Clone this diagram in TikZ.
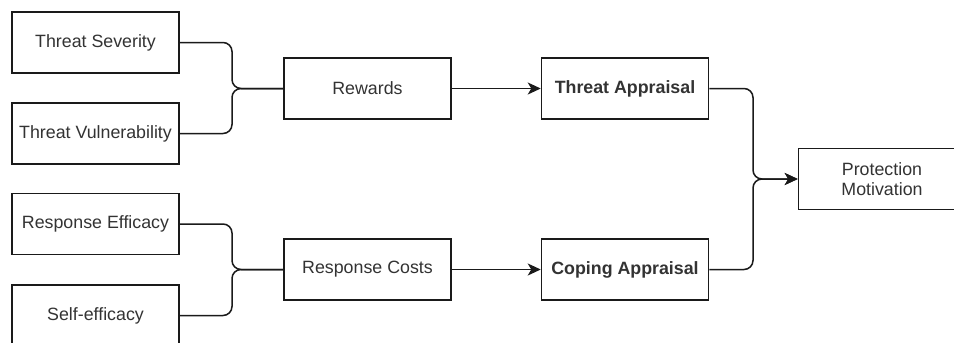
\documentclass[tikz,border=0pt]{standalone}
\usepackage{fontspec}
\setmainfont{Liberation Sans}
\usetikzlibrary{arrows.meta}
\definecolor{ink}{HTML}{1A1A1A}
\definecolor{txt}{HTML}{333333}
\tikzset{
  box/.style={draw=ink, line width=1.5pt, fill=white, minimum width=167pt, minimum height=61pt,
    inner sep=0pt, align=center, text=txt, font=\fontsize{17.8}{20}\selectfont},
  boldbox/.style={box, font=\fontsize{17.8}{20}\selectfont\bfseries},
  link/.style={draw=ink, line width=1.5pt, rounded corners=9pt},
  arrowlink/.style={link, -{Stealth[length=13pt, width=12pt, inset=3.5pt]}},
}
\begin{document}
\begin{tikzpicture}[x=1pt, y=-1pt]
  \useasboundingbox (0,0) rectangle (954,343);
  \clip (0,0) rectangle (954,343);
  \fill[white] (0,0) rectangle (954,343);

  % input factors
  \node[box] (ts) at (95.5,42.5)  {Threat Severity};
  \node[box] (tv) at (95.5,133.5) {Threat Vulnerability};
  \node[box] (re) at (95.5,224)   {Response Efficacy};
  \node[box] (se) at (95.5,315.5) {Self-efficacy};

  % intermediate factors
  \node[box] (rw) at (367.5,88.5)  {Rewards};
  \node[box] (rc) at (367.5,269.5) {Response Costs};

  % appraisals
  \node[boldbox] (ta) at (625,88.5)  {Threat Appraisal};
  \node[boldbox] (ca) at (625,269.5) {Coping Appraisal};

  % outcome
  \node[box] (pm) at (882,179) {Protection\\Motivation};

  % merging connectors
  \draw[link] (ts.east) -- (232,42.5) -- (232,88.5) -- (rw.west);
  \draw[link] (tv.east) -- (232,133.5) -- (232,88.5) -- (rw.west);
  \draw[link] (re.east) -- (232,224) -- (232,269.5) -- (rc.west);
  \draw[link] (se.east) -- (232,315.5) -- (232,269.5) -- (rc.west);

  \draw[arrowlink] (rw.east) -- (ta.west);
  \draw[arrowlink] (rc.east) -- (ca.west);

  \draw[arrowlink] (ta.east) -- (753,88.5) -- (753,179) -- (pm.west);
  \draw[arrowlink] (ca.east) -- (753,269.5) -- (753,179) -- (pm.west);
\end{tikzpicture}
\end{document}
